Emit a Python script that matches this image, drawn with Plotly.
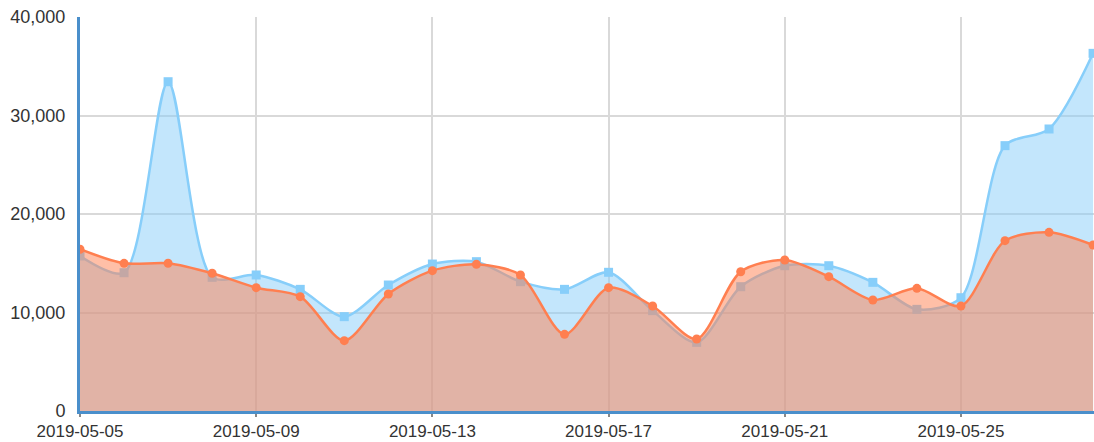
import plotly.graph_objects as go
import pandas as pd

dates = pd.date_range("2019-05-05", "2019-05-28", freq="D").strftime("%Y-%m-%d").tolist()
series_a = [15740, 14040, 33430, 13570, 13810, 12350, 9580, 12790, 14920, 15160, 13130, 12350,
            14080, 10190, 6970, 12620, 14750, 14750, 13060, 10320, 11500, 26940, 28630, 36310]
series_b = [16420, 14990, 15000, 13980, 12520, 11610, 7140, 11880, 14250, 14890, 13810, 7780,
            12520, 10660, 7310, 14140, 15330, 13640, 11270, 12450, 10660, 17290, 18140, 16850]
tick_vals = ["2019-05-05", "2019-05-09", "2019-05-13", "2019-05-17", "2019-05-21", "2019-05-25"]
y_ticks = [0, 10000, 20000, 30000, 40000]

fig = go.Figure()
fig.add_trace(go.Scatter(
    x=dates, y=series_a, mode="lines+markers", name="A",
    line=dict(color="#87CEFA", width=2.5, shape="spline", smoothing=0.8),
    marker=dict(symbol="square", size=9, color="#87CEFA"),
    fill="tozeroy", fillcolor="rgba(135,206,250,0.5)",
))
fig.add_trace(go.Scatter(
    x=dates, y=series_b, mode="lines+markers", name="B",
    line=dict(color="#FF7F50", width=2.5, shape="spline", smoothing=0.8),
    marker=dict(symbol="circle", size=9, color="#FF7F50"),
    fill="tozeroy", fillcolor="rgba(255,127,80,0.5)",
))

font = dict(family="Liberation Sans, Arial, sans-serif", size=18, color="#333333")
xfont = dict(family="Liberation Sans, Arial, sans-serif", size=17, color="#333333")
fig.update_layout(
    width=1094, height=442,
    margin=dict(l=80, r=0, t=17, b=31, autoexpand=False),
    paper_bgcolor="white", plot_bgcolor="white",
    showlegend=False, font=font,
)
fig.update_xaxes(
    type="date", range=["2019-05-05", "2019-05-28 00:30"],
    tickvals=tick_vals, ticktext=tick_vals, automargin=False,
    showgrid=True, gridcolor="#d9d9d9", gridwidth=1.5,
    showline=True, linecolor="#4a8fcb", linewidth=3,
    ticks="outside", ticklen=3, tickcolor="#888888", tickwidth=1.5,
    tickfont=xfont, zeroline=False,
)
fig.update_yaxes(
    range=[0, 40000], tickvals=y_ticks, tickformat=",", automargin=False,
    showgrid=True, gridcolor="#d9d9d9", gridwidth=1.5,
    showline=True, linecolor="#4a8fcb", linewidth=3,
    ticks="", ticklabelstandoff=8,
    tickfont=font, zeroline=False,
)
fig.write_html("out.html", config={"displayModeBar": False},
               post_script="document.body.style.margin='0px';")
